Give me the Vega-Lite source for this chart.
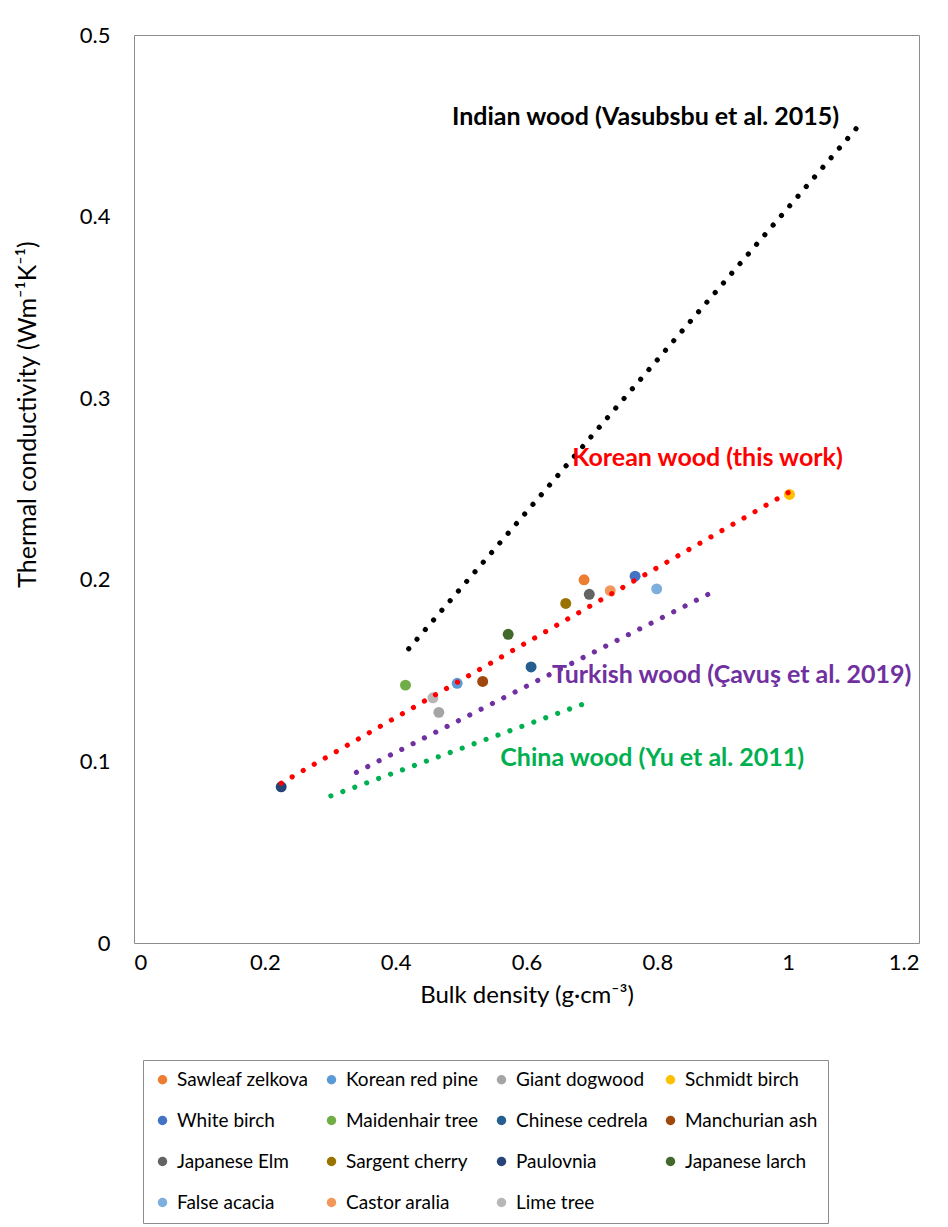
{
  "$schema": "https://vega.github.io/schema/vega-lite/v6.json",
  "width": 785,
  "height": 908,
  "autosize": {"type": "none"},
  "padding": {"left": 134, "top": 35, "right": 29, "bottom": 284},
  "background": "white",
  "config": {
    "font": "Lato",
    "view": {"stroke": "#8c8c8c", "strokeWidth": 1},
    "axis": {"grid": false, "ticks": false, "domain": false, "labelColor": "#000", "titleColor": "#000", "labelFont": "Lato", "titleFont": "Lato", "titleFontWeight": "normal"}
  },
  "datasets": {
    "points": [
      {"species": "Sawleaf zelkova", "density": 0.688, "conductivity": 0.200},
      {"species": "Korean red pine", "density": 0.494, "conductivity": 0.143},
      {"species": "Giant dogwood", "density": 0.466, "conductivity": 0.127},
      {"species": "Schmidt birch", "density": 1.002, "conductivity": 0.247},
      {"species": "White birch", "density": 0.766, "conductivity": 0.202},
      {"species": "Maidenhair tree", "density": 0.415, "conductivity": 0.142},
      {"species": "Chinese cedrela", "density": 0.607, "conductivity": 0.152},
      {"species": "Manchurian ash", "density": 0.533, "conductivity": 0.144},
      {"species": "Japanese Elm", "density": 0.696, "conductivity": 0.192},
      {"species": "Sargent cherry", "density": 0.660, "conductivity": 0.187},
      {"species": "Paulovnia", "density": 0.225, "conductivity": 0.086},
      {"species": "Japanese larch", "density": 0.572, "conductivity": 0.170},
      {"species": "False acacia", "density": 0.799, "conductivity": 0.195},
      {"species": "Castor aralia", "density": 0.728, "conductivity": 0.194},
      {"species": "Lime tree", "density": 0.457, "conductivity": 0.135}
    ],
    "lines": [
      {"series": "Indian", "density": 0.420, "conductivity": 0.162},
      {"series": "Indian", "density": 1.110, "conductivity": 0.451},
      {"series": "Korean", "density": 0.225, "conductivity": 0.088},
      {"series": "Korean", "density": 1.000, "conductivity": 0.248},
      {"series": "Turkish", "density": 0.340, "conductivity": 0.094},
      {"series": "Turkish", "density": 0.883, "conductivity": 0.193},
      {"series": "China", "density": 0.301, "conductivity": 0.081},
      {"series": "China", "density": 0.690, "conductivity": 0.132}
    ],
    "labels": [
      {"series": "Indian", "label": "Indian wood (Vasubsbu et al. 2015)", "density": 0.486, "conductivity": 0.4549},
      {"series": "Korean", "label": "Korean wood (this work)", "density": 0.670, "conductivity": 0.267},
      {"series": "Turkish", "label": "Turkish wood (Çavuş et al. 2019)", "density": 0.639, "conductivity": 0.1476},
      {"series": "China", "label": "China wood (Yu et al. 2011)", "density": 0.560, "conductivity": 0.1019}
    ]
  },
  "encoding": {
    "x": {
      "field": "density", "type": "quantitative",
      "scale": {"domain": [0, 1.2], "nice": false, "zero": false},
      "axis": {"values": [0, 0.2, 0.4, 0.6, 0.8, 1, 1.2], "format": "~g", "labelFontSize": 22, "labelPadding": 9, "title": "Bulk density (g·cm⁻³)", "titleFontSize": 24, "titlePadding": 10}
    },
    "y": {
      "field": "conductivity", "type": "quantitative",
      "scale": {"domain": [0, 0.5], "nice": false, "zero": false},
      "axis": {"values": [0, 0.1, 0.2, 0.3, 0.4, 0.5], "format": "~g", "labelFontSize": 22, "labelPadding": 24, "title": "Thermal conductivity (Wm⁻¹K⁻¹)", "titleFontSize": 25, "titleAngle": -90, "titleX": -107, "titleY": 379, "titleAlign": "center", "titleBaseline": "middle"}
    }
  },
  "layer": [
    {
      "data": {"name": "points"},
      "mark": {"type": "point", "filled": true, "opacity": 1, "size": 120, "shape": "circle"},
      "encoding": {
        "color": {
          "field": "species", "type": "nominal",
          "scale": {
            "domain": ["Sawleaf zelkova", "Korean red pine", "Giant dogwood", "Schmidt birch", "White birch", "Maidenhair tree", "Chinese cedrela", "Manchurian ash", "Japanese Elm", "Sargent cherry", "Paulovnia", "Japanese larch", "False acacia", "Castor aralia", "Lime tree"],
            "range": ["#ED7D31", "#5B9BD5", "#A5A5A5", "#FFC000", "#4472C4", "#70AD47", "#255E91", "#9E480E", "#636363", "#997300", "#264478", "#43682B", "#7CAFDD", "#F1975A", "#B7B7B7"]
          },
          "legend": {
            "title": null, "orient": "none", "legendX": 9, "legendY": 1025,
            "direction": "horizontal", "columns": 4, "columnPadding": 13, "rowPadding": 21,
            "strokeColor": "#8c8c8c", "padding": 10,
            "symbolType": "circle", "symbolSize": 90, "symbolStrokeWidth": 0,
            "labelFontSize": 19, "labelFont": "Lato", "labelColor": "#000", "labelOffset": 5, "labelLimit": 300
          }
        }
      }
    },
    {
      "data": {"name": "lines"},
      "mark": {"type": "line", "strokeWidth": 5.2, "strokeCap": "round", "strokeDash": [0.001, 12.7]},
      "encoding": {
        "color": {
          "field": "series", "type": "nominal",
          "scale": {"domain": ["Indian", "Korean", "Turkish", "China"], "range": ["#000000", "#FF0000", "#7030A0", "#00B050"]},
          "legend": null
        },
        "detail": {"field": "series"}
      }
    },
    {
      "data": {"name": "labels"},
      "mark": {"type": "text", "align": "left", "baseline": "middle", "fontSize": 25, "fontWeight": "bold", "font": "Lato"},
      "encoding": {
        "text": {"field": "label"},
        "color": {
          "field": "series", "type": "nominal",
          "scale": {"domain": ["Indian", "Korean", "Turkish", "China"], "range": ["#000000", "#FF0000", "#7030A0", "#00B050"]},
          "legend": null
        }
      }
    }
  ],
  "resolve": {"scale": {"color": "independent"}, "legend": {"color": "independent"}}
}
